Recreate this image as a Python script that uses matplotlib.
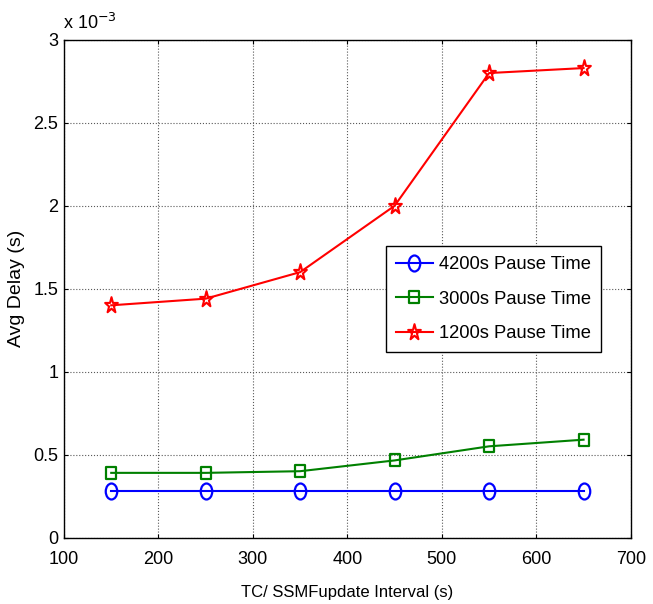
import matplotlib.pyplot as plt
from matplotlib.markers import MarkerStyle
from matplotlib.path import Path
from matplotlib.transforms import Affine2D
from matplotlib.ticker import FuncFormatter, MultipleLocator

plt.rcParams['font.family'] = ['Liberation Sans', 'DejaVu Sans']

# update interval (s)
intervals = [150, 250, 350, 450, 550, 650]

# average delay (s) for each pause time
delay_4200 = [0.28e-3, 0.28e-3, 0.28e-3, 0.28e-3, 0.28e-3, 0.28e-3]
delay_3000 = [0.39e-3, 0.39e-3, 0.40e-3, 0.465e-3, 0.55e-3, 0.59e-3]
delay_1200 = [1.40e-3, 1.44e-3, 1.60e-3, 2.00e-3, 2.80e-3, 2.83e-3]

labels = ['4200s Pause Time', '3000s Pause Time', '1200s Pause Time']


def narrow(name, sx=0.72):
    # squeeze a standard marker horizontally
    ms = MarkerStyle(name)
    path = ms.get_path().transformed(ms.get_transform())
    return Path(Affine2D().scale(sx, 1.0).transform(path.vertices), path.codes)


fig = plt.figure(figsize=(6.53, 6.04), dpi=100)
ax = fig.add_axes([0.098, 0.110, 0.868, 0.824])

ax.plot(intervals, delay_4200, color='blue', marker=narrow('o'), markersize=11.5,
        markerfacecolor='none', markeredgewidth=1.6, linewidth=1.5, label=labels[0])
ax.plot(intervals, delay_3000, color='green', marker=narrow('s', 0.8), markersize=9,
        markerfacecolor='none', markeredgewidth=1.6, linewidth=1.5, label=labels[1])
ax.plot(intervals, delay_1200, color='red', marker=narrow('*', 0.8), markersize=12,
        markerfacecolor='none', markeredgewidth=1.5, linewidth=1.5, label=labels[2])

ax.set_xlim(100, 700)
ax.set_ylim(0, 3e-3)
ax.xaxis.set_major_locator(MultipleLocator(100))
ax.yaxis.set_major_locator(MultipleLocator(0.5e-3))
ax.yaxis.set_major_formatter(FuncFormatter(lambda v, p: '%g' % round(v * 1e3, 3)))
ax.tick_params(direction='in', top=True, right=True, labelsize=13, length=3)
ax.tick_params(axis='x', pad=10)
ax.tick_params(axis='y', pad=4)
ax.grid(True, linestyle=':', color='0.35', linewidth=0.8)

for s in ax.spines.values():
    s.set_linewidth(1.0)

ax.set_xlabel('TC/ SSMFupdate Interval (s)', fontsize=12, labelpad=12)
ax.set_ylabel('Avg Delay (s)', fontsize=14, labelpad=6)

# scale factor shown above the y axis
ax.text(-0.002, 1.014, r'x 10$^{-3}$', transform=ax.transAxes, fontsize=13,
        ha='left', va='bottom')

ax.legend(loc='upper left', bbox_to_anchor=(0.568, 0.585), borderaxespad=0,
          fontsize=13.2, fancybox=False, edgecolor='black', framealpha=1,
          borderpad=0.55, handlelength=2.0, handletextpad=0.35, labelspacing=0.95)

plt.savefig('out.png', dpi=100)
